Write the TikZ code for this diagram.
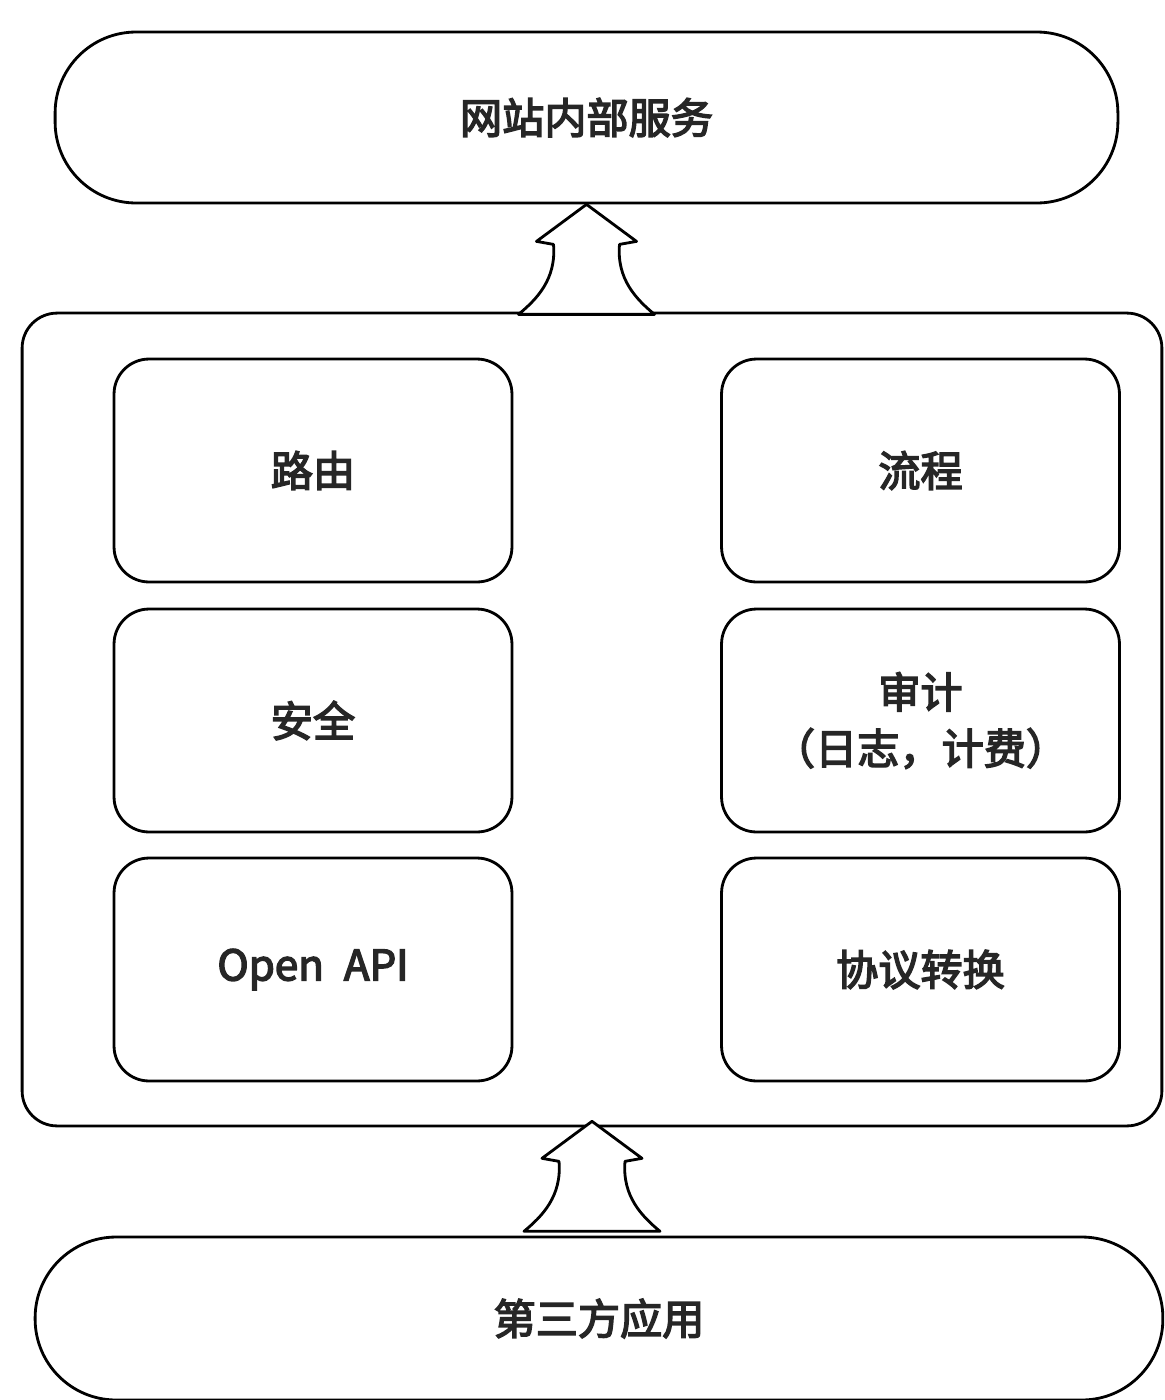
\documentclass[tikz,border=0pt]{standalone}
\usepackage{fontspec}
\setmainfont{Noto Sans CJK SC}[FakeBold=3.5]
\usetikzlibrary{calc}
\tikzset{
  box/.style={draw=black, line width=1.6pt, fill=white, rectangle, align=center,
    font=\fontsize{24}{32}\selectfont, text=black!85},
  pill/.style={box, rounded corners=1.62cm},
  frame/.style={draw=black, line width=1.6pt, rectangle, rounded corners=0.7cm},
  card/.style={box, rounded corners=0.7cm, minimum width=7.96cm, minimum height=4.46cm},
  blockarrow/.style={draw=black, line width=1.6pt, fill=white, line join=round}
}
\newcommand{\fatarrow}[1]{%
  \draw[blockarrow, shift={(#1)}] (0,0) -- (50,37) -- (33,40)
    .. controls (30,75) and (50,95) .. (68,110) -- (-68,110)
    .. controls (-50,95) and (-30,75) .. (-33,40) -- (-50,37) -- cycle;}
\begin{document}
\begin{tikzpicture}[x=0.02cm, y=-0.02cm]
\useasboundingbox (0,0) rectangle (1164,1400);
\begin{scope}
\clip (0,0) rectangle (1164,1400);
% top pill
\node[pill, minimum width=21.26cm, minimum height=3.42cm] (top) at (586.5,117.5) {网站内部服务};
% container
\node[frame, minimum width=22.8cm, minimum height=16.26cm] (mid) at (592,719.5) {};
% cards
\node[card] (route) at (313,470.5) {路由};
\node[card] (flow) at (920.5,470.5) {流程};
\node[card] (sec) at (313,720.5) {安全};
\node[card] (audit) at (920.5,720.5) {审计\\（日志，计费）};
\node[card] (api) at (313,969.5) {Open\hspace{0.25em} API};
\node[card] (proto) at (920.5,969.5) {协议转换};
% bottom pill
\node[pill, minimum width=22.56cm, minimum height=3.26cm] (bot) at (599,1318.5) {第三方应用};
% arrows
\coordinate (tipA) at (top.south);
\coordinate (tipB) at ($(mid.south)+(0,-6)$);
\fatarrow{tipA}
\fatarrow{tipB}
\end{scope}
\end{tikzpicture}
\end{document}
